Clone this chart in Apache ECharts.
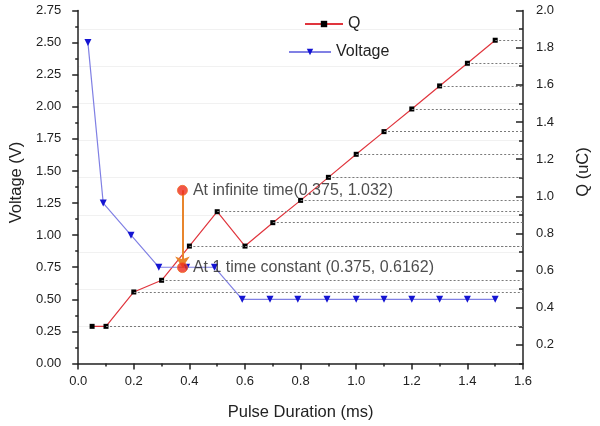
<!DOCTYPE html>
<html>
<head>
<meta charset="utf-8">
<script src="https://cdn.jsdelivr.net/npm/echarts@6/dist/echarts.min.js"></script>
<style>
html,body{margin:0;padding:0;background:#fff;}
#chart{width:600px;height:426px;}
</style>
</head>
<body>
<div id="chart"></div>
<script>
// ---- data ----
const qX = [0.05, 0.1, 0.2, 0.3, 0.4, 0.5, 0.6, 0.7, 0.8, 0.9, 1.0, 1.1, 1.2, 1.3, 1.4, 1.5];
const qY = [0.30, 0.30, 0.485, 0.548, 0.732, 0.917, 0.732, 0.858, 0.978, 1.102, 1.226, 1.348, 1.470, 1.594, 1.716, 1.840];
const vX = [0.035, 0.09, 0.19, 0.29, 0.39, 0.49, 0.59, 0.69, 0.79, 0.895, 1.0, 1.1, 1.2, 1.3, 1.4, 1.5];
const vY = [2.5, 1.25, 1.0, 0.75, 0.75, 0.75, 0.5, 0.5, 0.5, 0.5, 0.5, 0.5, 0.5, 0.5, 0.5, 0.5];
const annoX = [0.375, 0.375];
const annoY = [1.032, 0.6162];
const annoText = ['At infinite time(0.375, 1.032)', 'At 1 time constant (0.375, 0.6162)'];
const qMajorTicks = [0.2, 0.4, 0.6, 0.8, 1.0, 1.2, 1.4, 1.6, 1.8, 2.0];
const qMinorTicks = [0.1, 0.3, 0.5, 0.7, 0.9, 1.1, 1.3, 1.5, 1.7, 1.9];

const FONT = "'Liberation Sans', Arial, sans-serif";
const INK = '#222';
const chart = echarts.init(document.getElementById('chart'), null, {renderer: 'canvas'});

// drop lines from each Q point to the right axis (skip a point whose next neighbour repeats its value)
const dropLines = [];
qX.forEach((x, i) => {
  if (i + 1 < qY.length && qY[i + 1] === qY[i]) return;
  dropLines.push([{coord: [x, qY[i]]}, {coord: [1.6, qY[i]]}]);
});

const option = {
  animation: false,
  textStyle: {fontFamily: FONT},
  grid: {left: 73, right: 75, top: 10.5, bottom: 62.5},
  legend: [
    {data: ['Q'], left: 299, top: 11, itemWidth: 38, itemHeight: 8, itemGap: 4,
     textStyle: {fontSize: 16, color: INK, fontFamily: FONT}},
    {data: ['Voltage'], left: 283, top: 39, itemWidth: 42, itemHeight: 8, itemGap: 4,
     textStyle: {fontSize: 16, color: INK, fontFamily: FONT}}
  ],
  xAxis: {
    type: 'value', min: 0, max: 1.6, interval: 0.2,
    name: 'Pulse Duration (ms)', nameLocation: 'middle', nameGap: 40,
    nameTextStyle: {fontSize: 16.5, color: INK, fontFamily: FONT},
    axisLine: {onZero: false, lineStyle: {color: INK, width: 1.5}},
    axisTick: {show: true, length: 6, lineStyle: {color: INK, width: 1.5}},
    minorTick: {show: true, splitNumber: 2, length: 3, lineStyle: {color: INK, width: 1.5}},
    axisLabel: {fontSize: 13, color: INK, margin: 11, fontFamily: FONT, formatter: v => v.toFixed(1)},
    splitLine: {show: false}
  },
  yAxis: [
    {
      type: 'value', position: 'left', offset: 5, min: 0, max: 2.75, interval: 0.25,
      name: 'Voltage (V)', nameLocation: 'middle', nameRotate: 90, nameGap: 45,
      nameTextStyle: {fontSize: 16.5, color: INK, fontFamily: FONT, padding: [0, 0, 0, 9]},
      axisLine: {show: true, lineStyle: {color: INK, width: 1.5}},
      axisTick: {show: true, length: 6, lineStyle: {color: INK, width: 1.5}},
      minorTick: {show: true, splitNumber: 2, length: 3, lineStyle: {color: INK, width: 1.5}},
      axisLabel: {fontSize: 13, color: INK, margin: 12, fontFamily: FONT, formatter: v => v.toFixed(2)},
      splitLine: {show: false}
    },
    {
      type: 'value', position: 'right', min: 0.1, max: 2.0,
      name: 'Q (uC)', nameLocation: 'middle', nameRotate: 90, nameGap: 52,
      nameTextStyle: {fontSize: 16.5, color: INK, fontFamily: FONT, padding: [0, 0, 0, 30]},
      axisLine: {show: true, lineStyle: {color: INK, width: 1.5}},
      axisTick: {show: true, inside: true, length: 7, customValues: qMajorTicks, lineStyle: {color: INK, width: 1.5}},
      axisLabel: {fontSize: 13, color: INK, margin: 13, fontFamily: FONT, customValues: qMajorTicks,
                  padding: [8, 0, 0, 0], formatter: v => v.toFixed(1)},
      splitLine: {show: false}
    },
    {
      type: 'value', position: 'right', min: 0.1, max: 2.0,
      axisLine: {show: false},
      axisTick: {show: true, inside: true, length: 4, customValues: qMinorTicks, lineStyle: {color: INK, width: 1.5}},
      axisLabel: {show: false, customValues: qMinorTicks},
      splitLine: {show: true, lineStyle: {color: '#f1f1f1', width: 1}}
    }
  ],
  series: [
    {
      name: 'Q', type: 'line', yAxisIndex: 1, z: 4,
      data: qX.map((x, i) => [x, qY[i]]),
      symbol: 'rect', symbolSize: 5,
      itemStyle: {color: '#000'},
      lineStyle: {color: '#e0353d', width: 1.2},
      markLine: {
        silent: true, animation: false, symbol: ['none', 'none'],
        label: {show: false},
        lineStyle: {type: [2, 2], color: '#7a7a7a', width: 1},
        emphasis: {disabled: true},
        data: dropLines
      }
    },
    {
      name: 'Voltage', type: 'line', yAxisIndex: 0, z: 4,
      data: vX.map((x, i) => [x, vY[i]]),
      symbol: 'triangle', symbolRotate: 180, symbolSize: 7,
      itemStyle: {color: '#1414d2'},
      lineStyle: {color: '#8080e4', width: 1.2}
    },
    {
      name: 'annotations', type: 'scatter', yAxisIndex: 1, z: 5,
      data: annoX.map((x, i) => [x, annoY[i]]),
      symbol: 'circle', symbolSize: 10,
      itemStyle: {color: '#ee2a1c', borderColor: '#f0702a', borderWidth: 1},
      label: {show: true, position: 'right', distance: 5, fontSize: 16, color: INK, fontFamily: FONT,
              formatter: p => annoText[p.dataIndex]}
    },
    {
      name: 'arrow', type: 'line', yAxisIndex: 1, z: 6,
      data: annoX.map((x, i) => [x, annoY[i]]),
      symbol: 'none',
      lineStyle: {opacity: 0},
      markLine: {
        silent: true, animation: false, symbol: ['none', 'arrow'], symbolSize: 11,
        symbolOffset: 0,
        label: {show: false},
        itemStyle: {color: '#e8852c'},
        lineStyle: {type: 'solid', color: '#e8852c', width: 2},
        emphasis: {disabled: true},
        data: [[{coord: [annoX[0], annoY[0]]}, {coord: [annoX[1], annoY[1]]}]]
      }
    }
  ]
};
chart.setOption(option);
</script>
</body>
</html>
